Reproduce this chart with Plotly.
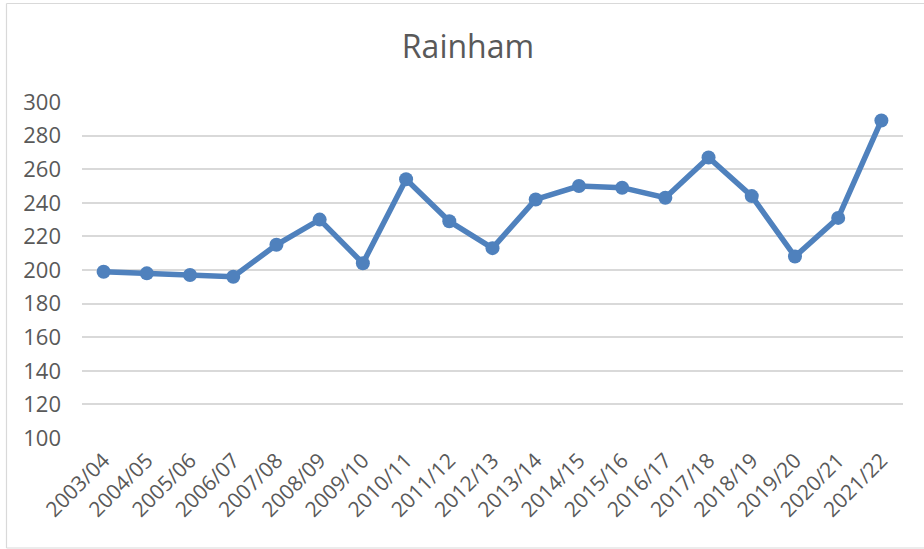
import plotly.graph_objects as go

# Data
years = ['2003/04', '2004/05', '2005/06', '2006/07', '2007/08', '2008/09',
         '2009/10', '2010/11', '2011/12', '2012/13', '2013/14', '2014/15',
         '2015/16', '2016/17', '2017/18', '2018/19', '2019/20', '2020/21',
         '2021/22']
values = [199, 198, 197, 196, 215, 230, 204, 254, 229, 213, 242, 250,
          249, 243, 267, 244, 208, 231, 289]
y_ticks = [100, 120, 140, 160, 180, 200, 220, 240, 260, 280, 300]

line_color = '#4F81BD'
text_color = '#595959'
grid_color = '#D9D9D9'

fig = go.Figure()
fig.add_trace(go.Scatter(x=years, y=values, mode='lines+markers',
                         line=dict(color=line_color, width=5.5),
                         marker=dict(color=line_color, size=14),
                         showlegend=False))

# Plot area in pixels
W, H = 924, 549
l, r, t, b = 82, 21, 102, 111
pw, ph = W - l - r, H - t - b

# Light frame round the chart: left, top and bottom edges only
fx0, fx1 = (6.5 - l) / pw, (W - l) / pw
fy0, fy1 = (H - b - 548) / ph, (H - b - 3.5) / ph
frame = dict(color=grid_color, width=1.2)
fig.add_shape(type='line', xref='paper', yref='paper', x0=fx0, x1=fx0,
              y0=fy0, y1=fy1, line=frame, layer='below')
fig.add_shape(type='line', xref='paper', yref='paper', x0=fx0, x1=fx1,
              y0=fy1, y1=fy1, line=frame, layer='below')
fig.add_shape(type='line', xref='paper', yref='paper', x0=fx0, x1=fx1,
              y0=fy0, y1=fy0, line=frame, layer='below')

fig.update_layout(
    width=W, height=H,
    margin=dict(l=l, r=r, t=t, b=b),
    paper_bgcolor='white', plot_bgcolor='white',
    font=dict(family='Open Sans, Liberation Sans, sans-serif', color=text_color),
    title=dict(text='Rainham', x=468 / W, xref='container', xanchor='center',
               y=1 - 47 / H, yref='container', yanchor='middle',
               font=dict(size=32, color=text_color)),
    xaxis=dict(type='category', range=[-0.5, len(years) - 0.5],
               tickangle=-45, tickfont=dict(size=21, color=text_color),
               showgrid=False, showline=False, zeroline=False,
               ticks='', ticklabelstandoff=5, automargin=False),
    yaxis=dict(range=[100, 300], tickvals=y_ticks,
               tickfont=dict(size=22, color=text_color),
               showgrid=True, gridcolor=grid_color, gridwidth=1.5,
               zeroline=False, showline=False, ticks='',
               ticklabelstandoff=20, automargin=False),
)

fig.write_html('out.html', config=dict(displayModeBar=False),
               post_script="document.body.style.margin='0';"
                           "document.body.style.overflow='hidden';")
